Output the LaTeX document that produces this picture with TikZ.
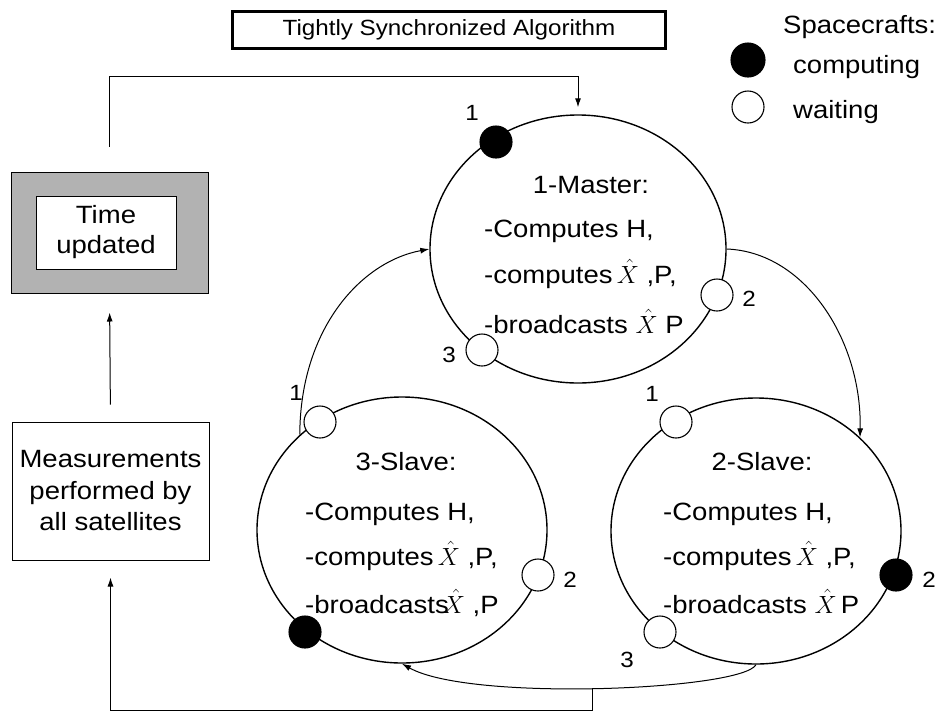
\documentclass[tikz,border=0pt]{standalone}
\usepackage{fontspec}
\setmainfont{Liberation Sans}[FakeStretch=1.1]
\usetikzlibrary{shapes.geometric,arrows.meta}
\newcommand\mainsz{\fontsize{25}{30}\selectfont}
\newcommand\labsz{\fontsize{22}{24}\selectfont}
\newcommand\titsz{\fontsize{22}{26}\selectfont}
\begin{document}
\begin{tikzpicture}[x=1pt,y=-1pt,
  ell/.style={ellipse,draw,line width=1.4pt,minimum width=290pt,minimum height=266pt,inner sep=0pt},
  wdot/.style={circle,draw,line width=1.1pt,fill=white,minimum size=32pt,inner sep=0pt},
  bdot/.style={circle,draw,line width=1.1pt,fill=black,minimum size=32pt,inner sep=0pt},
  lab/.style={font=\labsz,inner sep=0pt},
  txt/.style={font=\mainsz,anchor=base west,inner sep=0pt},
  hdr/.style={font=\mainsz,anchor=base,inner sep=0pt},
  arr/.style={line width=1pt,-{Latex[length=9pt,width=6pt]}},
  ln/.style={line width=1pt}]
\useasboundingbox (0,0) rectangle (936,713);
% title
\node[draw,line width=3.6pt,minimum width=433pt,minimum height=37pt,inner sep=0pt,font=\titsz] (title) at (449,30) {Tightly Synchronized Algorithm};
% legend
\node[txt] (leg) at (783,33) {Spacecrafts:};
\node[bdot,minimum size=34pt] (legb) at (748,60) {};
\node[txt] (legc) at (793,73) {computing};
\node[wdot] (legw) at (748,107) {};
\node[txt] (legwt) at (793,118) {waiting};
% left boxes
\node[draw,line width=1pt,fill=black!30,minimum width=197pt,minimum height=121pt,inner sep=0pt] (tb) at (109.5,232.5) {};
\node[draw,line width=1pt,fill=white,minimum width=140pt,minimum height=73pt,inner sep=0pt,align=center,font=\fontsize{25}{30}\selectfont] (tu) at (106,232.5) {Time\\updated};
\node[draw,line width=1pt,minimum width=197pt,minimum height=138pt,inner sep=0pt,align=center,font=\fontsize{25}{31.5}\selectfont] (meas) at (110.5,491) {Measurements\\performed by\\all satellites};
% ellipses
\node[ell,minimum width=296pt,minimum height=268pt] (m) at (578,249) {};
\node[ell] (s3) at (402,530) {};
\node[ell] (s2) at (756,531) {};
% connectors
\draw[arr,shorten <=25pt,shorten >=7pt] (tb.north) -- (tb.north |- 0,76) -| (m.north);
\draw[arr,shorten <=17pt,shorten >=19pt] (meas.north) -- (tb.south);
\draw[arr] (s3.137) .. controls (300,330) and (360,262) .. (m.west);
\draw[arr] (m.east) .. controls (805,252) and (862,340) .. (s2.42);
\draw[arr] (s2.south) .. controls (742,690) and (470,702) .. (s3.south);
\coordinate (mid) at (592,688);
\draw[arr,shorten >=17pt] (mid) -- (mid |- 0,710) -| (meas.south);
% master text
\node[hdr] (mh) at (591,193) {1-Master:};
\node[txt] (m1) at (484,237) {-Computes H,};
\node[txt] (m2) at (484,283) {-computes\,$\hat{X}$ ,P,};
\node[txt] (m3) at (484,333) {-broadcasts {\fontsize{30}{30}\selectfont$\hat{X}$} P};
% 3-slave text
\node[hdr] (s3h) at (406,470) {3-Slave:};
\node[txt] (s31) at (305,520) {-Computes H,};
\node[txt] (s32) at (305,565) {-computes\,$\hat{X}$ ,P,};
\node[txt] (s33) at (305,613) {-broadcasts\kern-6pt$\hat{X}$ ,P};
% 2-slave text
\node[hdr] (s2h) at (762,470) {2-Slave:};
\node[txt] (s21) at (663,520) {-Computes H,};
\node[txt] (s22) at (663,565) {-computes\,$\hat{X}$ ,P,};
\node[txt] (s23) at (663,613) {-broadcasts $\hat{X}$\,P};
% dots master
\node[bdot] (md1) at (496,142) {};
\node[wdot] (md2) at (717,295) {};
\node[wdot] (md3) at (482,350) {};
\node[lab] (ml1) at (472,113) {1};
\node[lab] (ml2) at (749,299) {2};
\node[lab] (ml3) at (449,355) {3};
% dots 3-slave
\node[wdot] (ad1) at (320,422) {};
\node[wdot] (ad2) at (538,575) {};
\node[bdot] (ad3) at (305,632) {};
\node[lab] (al1) at (296,393) {1};
\node[lab] (al2) at (570,580) {2};
% dots 2-slave
\node[wdot] (bd1) at (676,422) {};
\node[bdot] (bd2) at (896,575) {};
\node[wdot] (bd3) at (660,632) {};
\node[lab] (bl1) at (652,394) {1};
\node[lab] (bl2) at (929,580) {2};
\node[lab] (bl3) at (627,660) {3};
\end{tikzpicture}
\end{document}
